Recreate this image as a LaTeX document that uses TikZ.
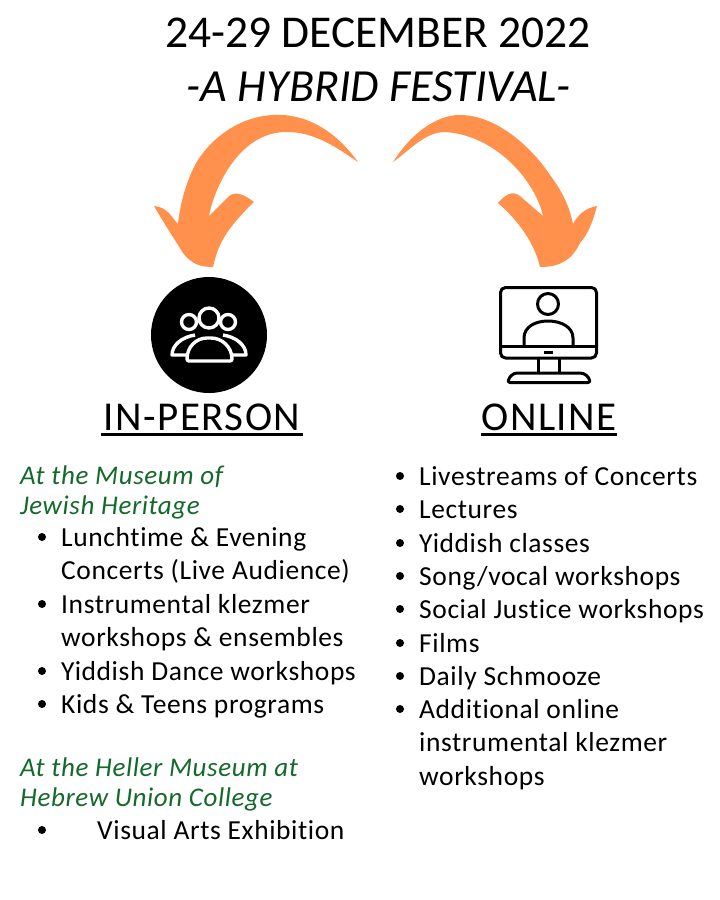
\documentclass[tikz,border=0pt]{standalone}
\usepackage{fontspec}
\setmainfont{Carlito}[LetterSpace=2.2, Ligatures=NoCommon]
\newfontfamily\titlefont{Carlito}[Ligatures=NoCommon]
\newfontfamily\headfont{Carlito}[LetterSpace=3.5, Ligatures=NoCommon]
\definecolor{arroworange}{HTML}{FF914D}
\definecolor{venuegreen}{HTML}{14692B}
\tikzset{
	title/.style={font=\titlefont\fontsize{45.5}{45.5}\selectfont, anchor=base},
	heading/.style={font=\headfont\fontsize{41}{41}\selectfont, anchor=base},
	venue/.style={font=\fontsize{27}{27}\selectfont\itshape, text=venuegreen, anchor=base west, inner sep=0pt},
	entry/.style={font=\fontsize{27.5}{27.5}\selectfont, anchor=base west, inner sep=0pt},
	dot/.style={circle, fill=black, inner sep=0pt, minimum size=8pt},
	icon/.style={draw=white, fill=black, line width=3.4pt, line join=round},
	screen/.style={draw=black, line width=3pt, line join=round},
	rule/.style={line width=3pt}
}
\begin{document}
\begin{tikzpicture}[x=1pt, y=-1pt]
\useasboundingbox (0,0) rectangle (720,900);

\node[title] (date) at (378,47) {24-29 DECEMBER 2022};
\node[title, font=\titlefont\fontsize{46}{46}\selectfont] (hybrid) at (379,101) {\itshape -A HYBRID FESTIVAL-};

% arrows
\fill[arroworange] (358,162) .. controls (335,130) and (305,113) .. (273,115)
	.. controls (235,117) and (207,143) .. (195,165)
	.. controls (185,185) and (180,205) .. (178,224)
	.. controls (172,218) and (168,207) .. (154,206)
	.. controls (165,225) and (175,240) .. (183,253)
	.. controls (192,265) and (202,267) .. (213,267)
	.. controls (218,245) and (225,230) .. (254,202)
	.. controls (245,195) and (235,190) .. (228,197)
	-- (209,216)
	.. controls (215,185) and (240,133) .. (285,132)
	.. controls (315,131) and (340,150) .. (358,162) -- cycle;
\fill[arroworange] (393,162) .. controls (410,135) and (435,115) .. (460,115)
	.. controls (495,115) and (530,145) .. (550,175)
	.. controls (565,195) and (570,210) .. (573,224)
	.. controls (578,215) and (585,208) .. (597,206)
	.. controls (592,225) and (587,235) .. (580,243)
	.. controls (572,260) and (560,267) .. (540,267)
	.. controls (535,245) and (520,222) .. (498,203)
	.. controls (505,195) and (512,190) .. (520,196)
	-- (543,216)
	.. controls (535,180) and (495,135) .. (445,132)
	.. controls (425,132) and (410,150) .. (393,162) -- cycle;

% in-person icon
\node[circle, fill=black, minimum size=116pt, inner sep=0pt] (crowd) at (209,335) {};
\draw[icon] (189,322) circle (7.5pt);
\draw[icon] (228,322) circle (7.5pt);
\draw[icon] (209,318) circle (10pt);
\draw[icon] (195,335) .. controls (182,337) and (172,345) .. (172,355) -- (190,355);
\draw[icon] (223,335) .. controls (236,337) and (246,345) .. (246,355) -- (228,355);
\draw[icon, rounded corners=2pt] (187,361) .. controls (187,347) and (196,338) .. (209,338)
	.. controls (222,338) and (232,347) .. (232,361) -- cycle;

% online icon
\draw[screen, rounded corners=5pt] (500.5,287.5) rectangle (596.5,358);
\draw[screen] (500.5,346) -- (596.5,346);
\draw[screen] (548,304) circle (10.5pt);
\draw[screen] (524,345) -- (524,338) .. controls (524,327) and (535,321) .. (548,321)
	.. controls (561,321) and (573,327) .. (573,338) -- (573,345);
\draw[screen] (544,352) -- (553,352);
\draw[screen] (538,358) -- (538,373) (559,358) -- (559,373);
\draw[screen, rounded corners=2pt] (508,382.5) .. controls (509,377) and (513,373) .. (519,373)
	-- (578,373) .. controls (585,373) and (589,377) .. (590,382.5) -- cycle;

% headings
\node[heading] (inperson) at (202,430) {IN-PERSON};
\node[heading] (online) at (549,430) {ONLINE};
\draw[rule] (101,434) -- (303,434);
\draw[rule] (481,434) -- (617,434);

% left column
\node[venue] (museum) at (20,484) {At the Museum of};
\node[venue] (jewish) at (20,514) {Jewish Heritage};
\foreach \nam/\yy/\txt/\bul in {
	lunch/546/Lunchtime \& Evening/1,
	concerts/579/Concerts (Live Audience)/0,
	instr/613/Instrumental klezmer/1,
	ensem/646/workshops \& ensembles/0,
	dance/680/Yiddish Dance workshops/1,
	kids/713/Kids \& Teens programs/1}{
	\node[entry] (\nam) at (61,\yy) {\txt};
	\ifnum\bul=1 \node[dot] (dot\nam) at (42,\yy-9) {}; \fi
}
\node[venue] (heller) at (20,776) {At the Heller Museum at};
\node[venue] (huc) at (20,806) {Hebrew Union College};
\node[entry] (visual) at (97,839) {Visual Arts Exhibition};
\node[dot] (dotvisual) at (42,830) {};

% right column
\foreach \nam/\yy/\txt/\bul in {
	live/485/Livestreams of Concerts/1,
	lect/518/Lectures/1,
	yidd/552/Yiddish classes/1,
	song/585/{Song/vocal workshops}/1,
	just/618/Social Justice workshops/1,
	film/652/Films/1,
	daily/685/Daily Schmooze/1,
	addi/718/Additional online/1,
	inst/751/instrumental klezmer/0,
	work/785/workshops/0}{
	\node[entry] (\nam) at (419,\yy) {\txt};
	\ifnum\bul=1 \node[dot] (dot\nam) at (400,\yy-9) {}; \fi
}
\end{tikzpicture}
\end{document}
